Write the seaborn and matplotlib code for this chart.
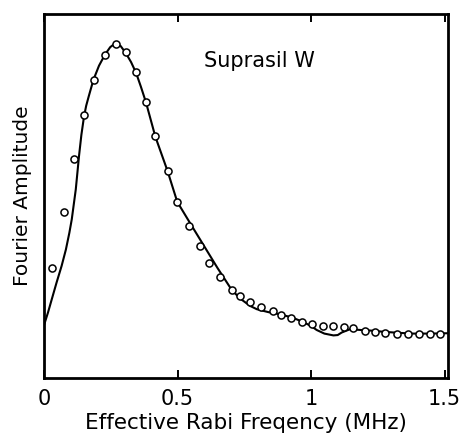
import numpy as np
import pandas as pd
import matplotlib
matplotlib.use("Agg")
import matplotlib.pyplot as plt
import seaborn as sns

# measured data (open circles)
freq_meas = [0.031, 0.075, 0.111, 0.151, 0.188, 0.230, 0.270, 0.307, 0.345, 0.382,
             0.417, 0.463, 0.499, 0.544, 0.584, 0.619, 0.659, 0.703, 0.734, 0.772,
             0.812, 0.857, 0.887, 0.925, 0.967, 1.005, 1.046, 1.084, 1.124, 1.159,
             1.201, 1.238, 1.276, 1.321, 1.364, 1.403, 1.445, 1.483]
amp_meas = [0.303, 0.456, 0.601, 0.722, 0.819, 0.887, 0.918, 0.895, 0.840, 0.758,
            0.664, 0.570, 0.484, 0.417, 0.362, 0.317, 0.277, 0.242, 0.225, 0.209,
            0.196, 0.184, 0.173, 0.164, 0.155, 0.149, 0.144, 0.142, 0.140, 0.136,
            0.129, 0.127, 0.125, 0.122, 0.121, 0.121, 0.122, 0.120]

# calculated curve (solid line)
freq_calc = [0.0, 0.015, 0.029, 0.047, 0.066, 0.082, 0.095, 0.104, 0.119, 0.131,
             0.140, 0.150, 0.158, 0.168, 0.185, 0.206, 0.228, 0.248, 0.268, 0.287,
             0.306, 0.326, 0.345, 0.363, 0.382, 0.417, 0.463, 0.499, 0.550, 0.600,
             0.650, 0.703, 0.735, 0.772, 0.797, 0.840, 0.884, 0.930, 0.967, 1.000,
             1.021, 1.050, 1.084, 1.100, 1.115, 1.146, 1.184, 1.230, 1.271, 1.330,
             1.382, 1.450, 1.513]
amp_calc = [0.145, 0.180, 0.216, 0.262, 0.308, 0.353, 0.399, 0.436, 0.518, 0.609,
            0.668, 0.719, 0.748, 0.775, 0.819, 0.858, 0.888, 0.909, 0.920, 0.912,
            0.893, 0.868, 0.838, 0.800, 0.757, 0.663, 0.568, 0.484, 0.422, 0.362,
            0.302, 0.242, 0.218, 0.198, 0.189, 0.181, 0.175, 0.166, 0.155, 0.143,
            0.132, 0.122, 0.117, 0.118, 0.125, 0.134, 0.132, 0.130, 0.127, 0.124,
            0.122, 0.122, 0.123]

x_ticks = [0, 0.5, 1, 1.5]
x_tick_labels = ["0", "0.5", "1", "1.5"]

sns.set_style("ticks")
plt.rcParams['font.family'] = ['DejaVu Sans']
plt.rcParams['text.color'] = 'black'
plt.rcParams['axes.labelcolor'] = 'black'

df_meas = pd.DataFrame({'f': freq_meas, 'A': amp_meas})
df_calc = pd.DataFrame({'f': freq_calc, 'A': amp_calc})

fig = plt.figure(figsize=(4.61, 4.38), dpi=100)
ax = fig.add_axes([44 / 461, 60 / 438, 404 / 461, 364 / 438])

sns.lineplot(data=df_calc, x='f', y='A', color='black', linewidth=1.5, sort=False, ax=ax)
sns.scatterplot(data=df_meas, x='f', y='A', marker='o', s=26, facecolor='white',
                edgecolor='black', linewidth=1.1, zorder=3, ax=ax)

ax.set_xlim(0, 1.513)
ax.set_ylim(0, 1.0)
ax.set_xticks(x_ticks)
ax.set_xticklabels(x_tick_labels)
ax.set_yticks([])
ax.tick_params(axis='x', direction='in', length=6, width=1.4, top=True,
               labelsize=15, pad=8, colors='black')
for s in ax.spines.values():
    s.set_linewidth(2.0)
    s.set_color('black')
    s.set_visible(True)

ax.set_xlabel("Effective Rabi Freqency (MHz)", fontsize=15.5, labelpad=3)
ax.set_ylabel("Fourier Amplitude", fontsize=14.5, labelpad=9)
ax.text(0.805, 0.872, "Suprasil W", fontsize=15, ha='center', va='center')

plt.savefig("out.png", dpi=100)
